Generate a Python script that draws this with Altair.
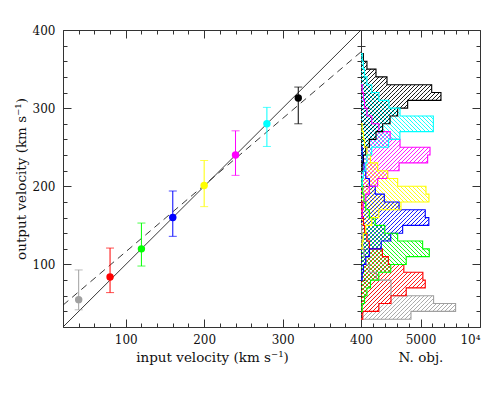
import math
import altair as alt
import pandas as pd

# ---------------- left panel values ----------------
inputs = [40, 80, 120, 160, 200, 240, 280, 320]
outputs = [55, 84, 120, 160, 201, 240, 280, 313]
err_low = [42, 64, 98, 136, 174, 214, 251, 280]
err_high = [93, 121, 153, 194, 233, 271, 301, 327]
colors = ["#a0a0a0", "#ff0000", "#00ff00", "#0000ff",
          "#ffff00", "#ff00ff", "#00ffff", "#000000"]

one_to_one_x = [20, 400]
one_to_one_y = [20, 400]
fit_x = [20, 400]
fit_y = [48, 372]

# ---------------- histogram values (bins of 10 km/s) ----------------
bin_width = 10
hist_start = [30, 30, 40, 80, 120, 160, 200, 220]
hist_counts = [
    [4200, 7950, 6100, 2520, 2520, 1300, 700, 400, 250, 150, 100, 60],                     # 40
    [150, 1500, 2520, 3800, 5400, 5200, 3600, 2300, 1800, 700, 500, 300, 200, 120, 80],   # 80
    [100, 300, 500, 800, 1500, 2500, 3800, 5740, 5180, 3080, 2000, 1200, 700, 400, 250, 150, 100],  # 120
    [100, 200, 400, 700, 1700, 2500, 3500, 5700, 5400, 3200, 1960, 1200, 700, 400, 250, 150, 100],  # 160
    [100, 200, 400, 900, 1500, 3360, 5710, 5460, 3080, 2240, 1400, 800, 500, 300, 200, 100],        # 200
    [100, 200, 400, 700, 1400, 2240, 3200, 5600, 5800, 3280, 2450, 1500, 900, 500, 300, 200, 100],  # 240
    [100, 200, 400, 500, 900, 2320, 3270, 6080, 6080, 3280, 2350, 1500, 900, 500, 300, 200, 100],   # 280
    [100, 200, 400, 700, 1260, 1820, 2440, 3080, 3920, 6720, 5940, 2185, 1260, 500, 200],           # 320
]
hatch_dir = ["/", "/", "\\", "/", "\\", "/", "\\", "/"]

# ---------------- geometry of the panels ----------------
LEFT_W, RIGHT_W, H = 298, 119, 297
Y_DOM = [20, 400]
X_DOM = [20, 400]
N_DOM = [0, 10000]
PX_X = RIGHT_W / (N_DOM[1] - N_DOM[0])
PX_Y = H / (Y_DOM[1] - Y_DOM[0])
HATCH_GAP = 4.0

FONT = "DejaVu Serif"
FRAME = "#333333"


def hatch_segments(start, counts, direction):
    segs = []
    for i, c in enumerate(counts):
        if c <= 0:
            continue
        lo = start + i * bin_width
        hi = lo + bin_width
        v0 = (lo - Y_DOM[0]) * PX_Y
        v1 = (hi - Y_DOM[0]) * PX_Y
        uw = c * PX_X
        if direction == "/":
            kmin = math.floor((v0 - uw) / HATCH_GAP) - 1
            kmax = math.ceil(v1 / HATCH_GAP) + 1
            for k in range(kmin, kmax + 1):
                off = k * HATCH_GAP
                ua = max(0.0, v0 - off)
                ub = min(uw, v1 - off)
                if ub - ua > 0.05:
                    segs.append((ua, ua + off, ub, ub + off))
        else:
            kmin = math.floor(v0 / HATCH_GAP) - 1
            kmax = math.ceil((v1 + uw) / HATCH_GAP) + 1
            for k in range(kmin, kmax + 1):
                off = k * HATCH_GAP
                ua = max(0.0, off - v1)
                ub = min(uw, off - v0)
                if ub - ua > 0.05:
                    segs.append((ua, off - ua, ub, off - ub))
    return [(a / PX_X, b / PX_Y + Y_DOM[0], c / PX_X, d / PX_Y + Y_DOM[0])
            for a, b, c, d in segs]


def outline_points(start, counts):
    pts = [(0, start)]
    for i, c in enumerate(counts):
        lo = start + i * bin_width
        pts += [(c, lo), (c, lo + bin_width)]
    pts.append((0, start + len(counts) * bin_width))
    return pts


outline_rows, hatch_rows = [], []
for h in range(len(inputs)):
    for j, (n, v) in enumerate(outline_points(hist_start[h], hist_counts[h])):
        outline_rows.append({"hist": h, "order": j, "n": n, "v": v,
                             "color": colors[h], "dir": hatch_dir[h]})
    for (x1, y1, x2, y2) in hatch_segments(hist_start[h], hist_counts[h], hatch_dir[h]):
        hatch_rows.append({"hist": h, "n": x1, "v": y1, "n2": x2, "v2": y2,
                           "color": colors[h], "dir": hatch_dir[h]})

outline_df = pd.DataFrame(outline_rows)
hatch_df = pd.DataFrame(hatch_rows)

pts_df = pd.DataFrame({"vin": inputs, "vout": outputs, "lo": err_low,
                       "hi": err_high, "color": colors})
line_df = pd.DataFrame({"x": one_to_one_x, "y": one_to_one_y})
fit_df = pd.DataFrame({"x": fit_x, "y": fit_y})

# ---------------- axes (inward ticks via negative offset) ----------------
left_major = [100, 200, 300, 400]
left_minor = [v for v in range(20, 401, 20) if v % 100 != 0]
n_major = [0, 5000, 10000]
n_minor = [v for v in range(1000, 10000, 1000) if v != 5000]
MAJ, MIN = 8, 4


def tick_axis(orient, values, size):
    return alt.Axis(orient=orient, values=values, tickSize=size, offset=-size,
                    domain=False, labels=False, grid=False, title=None,
                    tickColor=FRAME, tickWidth=1)


def label_axis(orient, values, title, pad, tpad, flush=False, expr=None):
    kw = {}
    if expr is not None:
        kw["labelExpr"] = expr
    return alt.Axis(orient=orient, values=values, tickSize=MAJ, offset=-MAJ,
                    domain=False, grid=False, title=title, labelPadding=pad,
                    titlePadding=tpad, labelFlush=flush, format="d",
                    tickColor=FRAME, tickWidth=1, **kw)


xs = alt.Scale(domain=X_DOM, nice=False, zero=False)
ys = alt.Scale(domain=Y_DOM, nice=False, zero=False)
ns = alt.Scale(domain=N_DOM, nice=False, zero=False)

# ---------------- left panel ----------------
solid = alt.Chart(line_df).mark_line(color="#222222", strokeWidth=0.9, clip=True).encode(
    x=alt.X("x:Q", scale=xs, axis=label_axis("bottom", left_major, "input velocity (km s\u207b\u00b9)", 7, 5)),
    y=alt.Y("y:Q", scale=ys, axis=label_axis("left", left_major, "output velocity (km s\u207b\u00b9)", 8, 4)),
)
dashed = alt.Chart(fit_df).mark_line(color="#222222", strokeWidth=0.9, strokeDash=[7, 5], clip=True).encode(
    x=alt.X("x:Q", scale=xs, axis=tick_axis("bottom", left_minor, MIN)),
    y=alt.Y("y:Q", scale=ys, axis=tick_axis("left", left_minor, MIN)),
)
bars = alt.Chart(pts_df).mark_rule(strokeWidth=1).encode(
    x=alt.X("vin:Q", scale=xs, axis=tick_axis("top", left_major, MAJ)),
    y=alt.Y("lo:Q", scale=ys, axis=tick_axis("right", left_major, MAJ)),
    y2="hi:Q",
    color=alt.Color("color:N", scale=None),
)
caps_lo = alt.Chart(pts_df).mark_tick(size=8, thickness=1, orient="horizontal").encode(
    x=alt.X("vin:Q", scale=xs, axis=tick_axis("top", left_minor, MIN)),
    y=alt.Y("lo:Q", scale=ys, axis=tick_axis("right", left_minor, MIN)),
    color=alt.Color("color:N", scale=None),
)
caps_hi = alt.Chart(pts_df).mark_tick(size=8, thickness=1, orient="horizontal").encode(
    x=alt.X("vin:Q", scale=xs, axis=None),
    y=alt.Y("hi:Q", scale=ys, axis=None),
    color=alt.Color("color:N", scale=None),
)
dots = alt.Chart(pts_df).mark_circle(size=55, opacity=1).encode(
    x=alt.X("vin:Q", scale=xs, axis=None),
    y=alt.Y("vout:Q", scale=ys, axis=None),
    color=alt.Color("color:N", scale=None),
)
left = alt.layer(solid, dashed, bars, caps_lo, caps_hi, dots).resolve_axis(
    x="independent", y="independent").properties(width=LEFT_W, height=H)

# ---------------- right panel ----------------
out_a = alt.Chart(outline_df).transform_filter("datum.dir == '/'").mark_line(strokeWidth=1.1).encode(
    x=alt.X("n:Q", scale=ns, axis=label_axis("bottom", [5000, 10000], "N. obj.", 7, 5, True,
                                              "datum.value == 10000 ? '10\u2074' : datum.label")),
    y=alt.Y("v:Q", scale=ys, axis=tick_axis("left", left_major, MAJ)),
    detail="hist:N", order="order:Q",
    color=alt.Color("color:N", scale=None),
)
out_b = alt.Chart(outline_df).transform_filter("datum.dir != '/'").mark_line(strokeWidth=1.1).encode(
    x=alt.X("n:Q", scale=ns, axis=tick_axis("bottom", n_minor, MIN)),
    y=alt.Y("v:Q", scale=ys, axis=tick_axis("left", left_minor, MIN)),
    detail="hist:N", order="order:Q",
    color=alt.Color("color:N", scale=None),
)
hat_a = alt.Chart(hatch_df).transform_filter("datum.dir == '/'").mark_rule(strokeWidth=0.9).encode(
    x=alt.X("n:Q", scale=ns, axis=tick_axis("top", n_major, 7)),
    y=alt.Y("v:Q", scale=ys, axis=tick_axis("right", left_major, MAJ)),
    x2="n2:Q", y2="v2:Q",
    color=alt.Color("color:N", scale=None),
)
hat_b = alt.Chart(hatch_df).transform_filter("datum.dir != '/'").mark_rule(strokeWidth=0.9).encode(
    x=alt.X("n:Q", scale=ns, axis=tick_axis("top", n_minor, MIN)),
    y=alt.Y("v:Q", scale=ys, axis=tick_axis("right", left_minor, MIN)),
    x2="n2:Q", y2="v2:Q",
    color=alt.Color("color:N", scale=None),
)
right = alt.layer(hat_a, hat_b, out_a, out_b).resolve_axis(
    x="independent", y="independent").properties(width=RIGHT_W, height=H)

chart = alt.hconcat(left, right, spacing=0, bounds="flush").properties(
    padding={"left": 5, "top": 15, "right": 0, "bottom": 5}
).configure_view(stroke=FRAME, strokeWidth=1).configure_axis(
    labelFont=FONT, labelFontSize=12, labelColor="#111111",
    titleFont=FONT, titleFontSize=13.5, titleFontWeight="normal", titleColor="#111111",
)

chart.save("out.html", embed_options={"renderer": "svg", "actions": False})
